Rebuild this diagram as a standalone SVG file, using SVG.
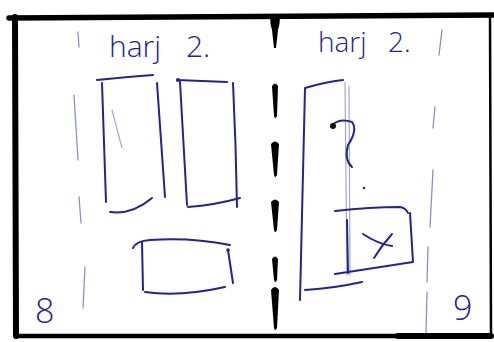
<svg xmlns="http://www.w3.org/2000/svg" width="494" height="342" viewBox="0 0 494 342">
<style>
.ink{fill:none;stroke:#22229a;stroke-width:2;stroke-linecap:round;stroke-linejoin:round}
.faint{fill:none;stroke:#6f73c0;stroke-width:1.3;stroke-linecap:round;opacity:.8}
.pale{fill:none;stroke:#a4a8cc;stroke-width:1.2;stroke-linecap:round}
.frame{fill:none;stroke:#000;stroke-linecap:round;stroke-linejoin:round}
.dash{fill:#000}
.hand{font-family:"Open Sans","DejaVu Sans",sans-serif;font-weight:300;fill:#22229a}
</style>
<rect width="494" height="342" fill="#fff"/>
<g id="frame">
<path class="frame" stroke-width="5.5" d="M9,18 Q200,16 494,15"/>
<path class="frame" stroke-width="6" d="M15,17 L16,336"/>
<path class="frame" stroke-width="4.5" d="M16,336 Q250,337 491,336"/>
<path class="frame" stroke-width="6" d="M398,336 L491,336"/>
<path class="frame" stroke-width="2.5" d="M490,15 L491,336"/>
</g>
<g id="divider">
<path class="dash" d="M270,17 L280,17 Q280,24 278,30 L276,48 L274,48 L272,30 Q270,24 270,17 Z"/>
<path class="dash" d="M272,86 Q275,81 278,86 L277,116 Q275,120 274,116 Z"/>
<path class="dash" d="M271,144 Q275,139 279,144 L277,175 Q275,179 274,175 Z"/>
<path class="dash" d="M271,202 Q275,197 279,202 L277,230 Q275,234 274,230 Z"/>
<path class="dash" d="M272,259 Q275,254 278,259 L277,280 Q275,284 274,280 Z"/>
<path class="dash" d="M271,290 Q275,284 279,290 L277,328 Q275,332 274,328 Z"/>
</g>
<g id="guides">
<path class="faint" d="M78,32 L79,47 M74,95 L78,160 M79,197 L81,223 M85,267 L83,308"/>
<path class="faint" d="M442,30 L439,55 M435,107 L433,128 M433,170 L430,227 M428,247 L427,282 M427,292 L426,333"/>
</g>
<g id="labels">
<text class="hand" font-size="30" y="57"><tspan x="109">harj</tspan><tspan x="186">2.</tspan></text>
<text class="hand" font-size="28" y="52"><tspan x="318">harj</tspan><tspan x="388">2.</tspan></text>
<text class="hand" font-size="34" x="35" y="323">8</text>
<text class="hand" font-size="34" x="453" y="320">9</text>
</g>
<g id="box-left-1">
<path class="ink" d="M97,80 Q125,77 153,75 M102,83 L106,202 M157,83 Q161,140 165,197 M110,212 Q132,215 152,198"/>
<path class="pale" d="M112,110 L122,148"/>
</g>
<g id="box-left-2">
<path class="ink" d="M177,80 Q200,81 227,82 M180,82 L187,205 M233,83 Q236,145 237,207 M188,207 Q215,205 240,198"/>
<circle cx="178" cy="80" r="2" fill="#22229a"/>
</g>
<g id="box-bottom">
<path class="ink" d="M133,248 Q136,241 150,240 Q190,237 230,245 M142,242 L143,290 M145,292 Q180,297 225,287 M228,250 L233,283"/>
<circle cx="228" cy="250" r="1.8" fill="#22229a"/>
</g>
<g id="box-right-tall">
<path class="ink" stroke-width="1.5" d="M305,88 Q325,82 343,80 M305,88 Q303,190 300,300 M305,290 Q335,288 362,282"/>
<path class="pale" d="M345,82 L347,275 M349,86 L350,275"/>
</g>
<g id="question">
<path class="ink" d="M332,125 Q340,118 352,122 Q358,130 348,145 Q344,160 352,167"/>
<circle cx="333" cy="126" r="3" fill="#111"/>
<circle cx="364" cy="188" r="1.3" fill="#22229a"/>
</g>
<g id="box-x">
<path class="ink" d="M335,211 Q370,207 400,207 Q406,208 408,213 M347,220 L348,273 M410,213 L413,262 M335,274 L413,262 M363,234 Q378,244 392,246 M392,234 Q382,245 374,258"/>
</g>
</svg>
